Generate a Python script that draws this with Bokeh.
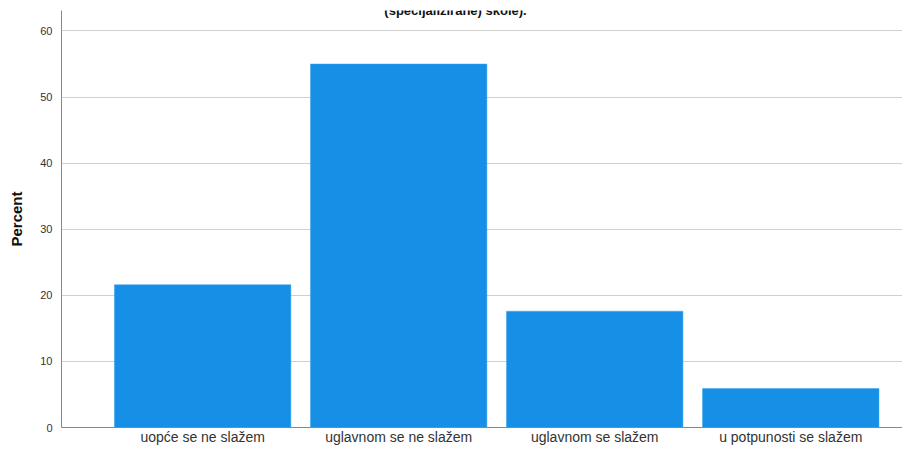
from bokeh.plotting import figure
from bokeh.models import Range1d, FixedTicker, Label
from bokeh.embed import file_html
from bokeh.resources import INLINE

categories = ["uopće se ne slažem", "uglavnom se ne slažem", "uglavnom se slažem", "u potpunosti se slažem"]
percent = [21.6, 55.0, 17.6, 5.9]
y_ticks = [0, 10, 20, 30, 40, 50, 60]
title_text = "(specijalizirane) škole)."

FONT = "Liberation Sans"
xs = list(range(len(categories)))

p = figure(width=902, height=447, output_backend="svg", toolbar_location=None,
           x_range=Range1d(-0.72, 3.57), y_range=Range1d(0, 63.1),
           min_border_left=61, min_border_top=10, min_border_right=0, min_border_bottom=0)
p.outline_line_color = None
p.background_fill_color = "white"

p.vbar(x=xs, top=percent, width=0.9, fill_color="#1590e6", line_color="#3aa2ec", line_width=0.5)

# y axis
p.yaxis.ticker = FixedTicker(ticks=y_ticks)
p.yaxis.axis_label = "Percent"
p.yaxis.axis_label_text_font = FONT
p.yaxis.axis_label_text_font_style = "bold"
p.yaxis.axis_label_text_font_size = "15px"
p.yaxis.axis_label_text_color = "#111111"
p.yaxis.axis_label_standoff = 12
p.yaxis.major_label_text_font = FONT
p.yaxis.major_label_text_font_size = "11px"
p.yaxis.major_label_text_color = "#333333"
p.yaxis.major_tick_line_color = None
p.yaxis.major_tick_out = 0
p.yaxis.major_tick_in = 0
p.yaxis.minor_tick_line_color = None
p.yaxis.minor_tick_out = 0
p.yaxis.axis_line_color = "#888888"
p.yaxis.major_label_standoff = 9

# x axis
p.xaxis.ticker = FixedTicker(ticks=xs)
p.xaxis.major_label_overrides = {i: c for i, c in enumerate(categories)}
p.xaxis.major_label_text_font = FONT
p.xaxis.major_label_text_font_size = "14px"
p.xaxis.major_label_text_color = "#333333"
p.xaxis.major_tick_line_color = None
p.xaxis.major_tick_out = 0
p.xaxis.major_tick_in = 0
p.xaxis.minor_tick_line_color = None
p.xaxis.minor_tick_out = 0
p.xaxis.axis_line_color = "#888888"
p.xaxis.major_label_standoff = 1

p.xgrid.grid_line_color = None
p.ygrid.grid_line_color = "#d0d0d0"

p.add_layout(Label(x=1.29, y=63.1, text=title_text, text_font=FONT, text_font_style="bold",
                   text_font_size="13px", text_align="center", text_baseline="top",
                   text_color="#111111", y_offset=8))

open("out.html", "w").write(file_html(p, INLINE))
